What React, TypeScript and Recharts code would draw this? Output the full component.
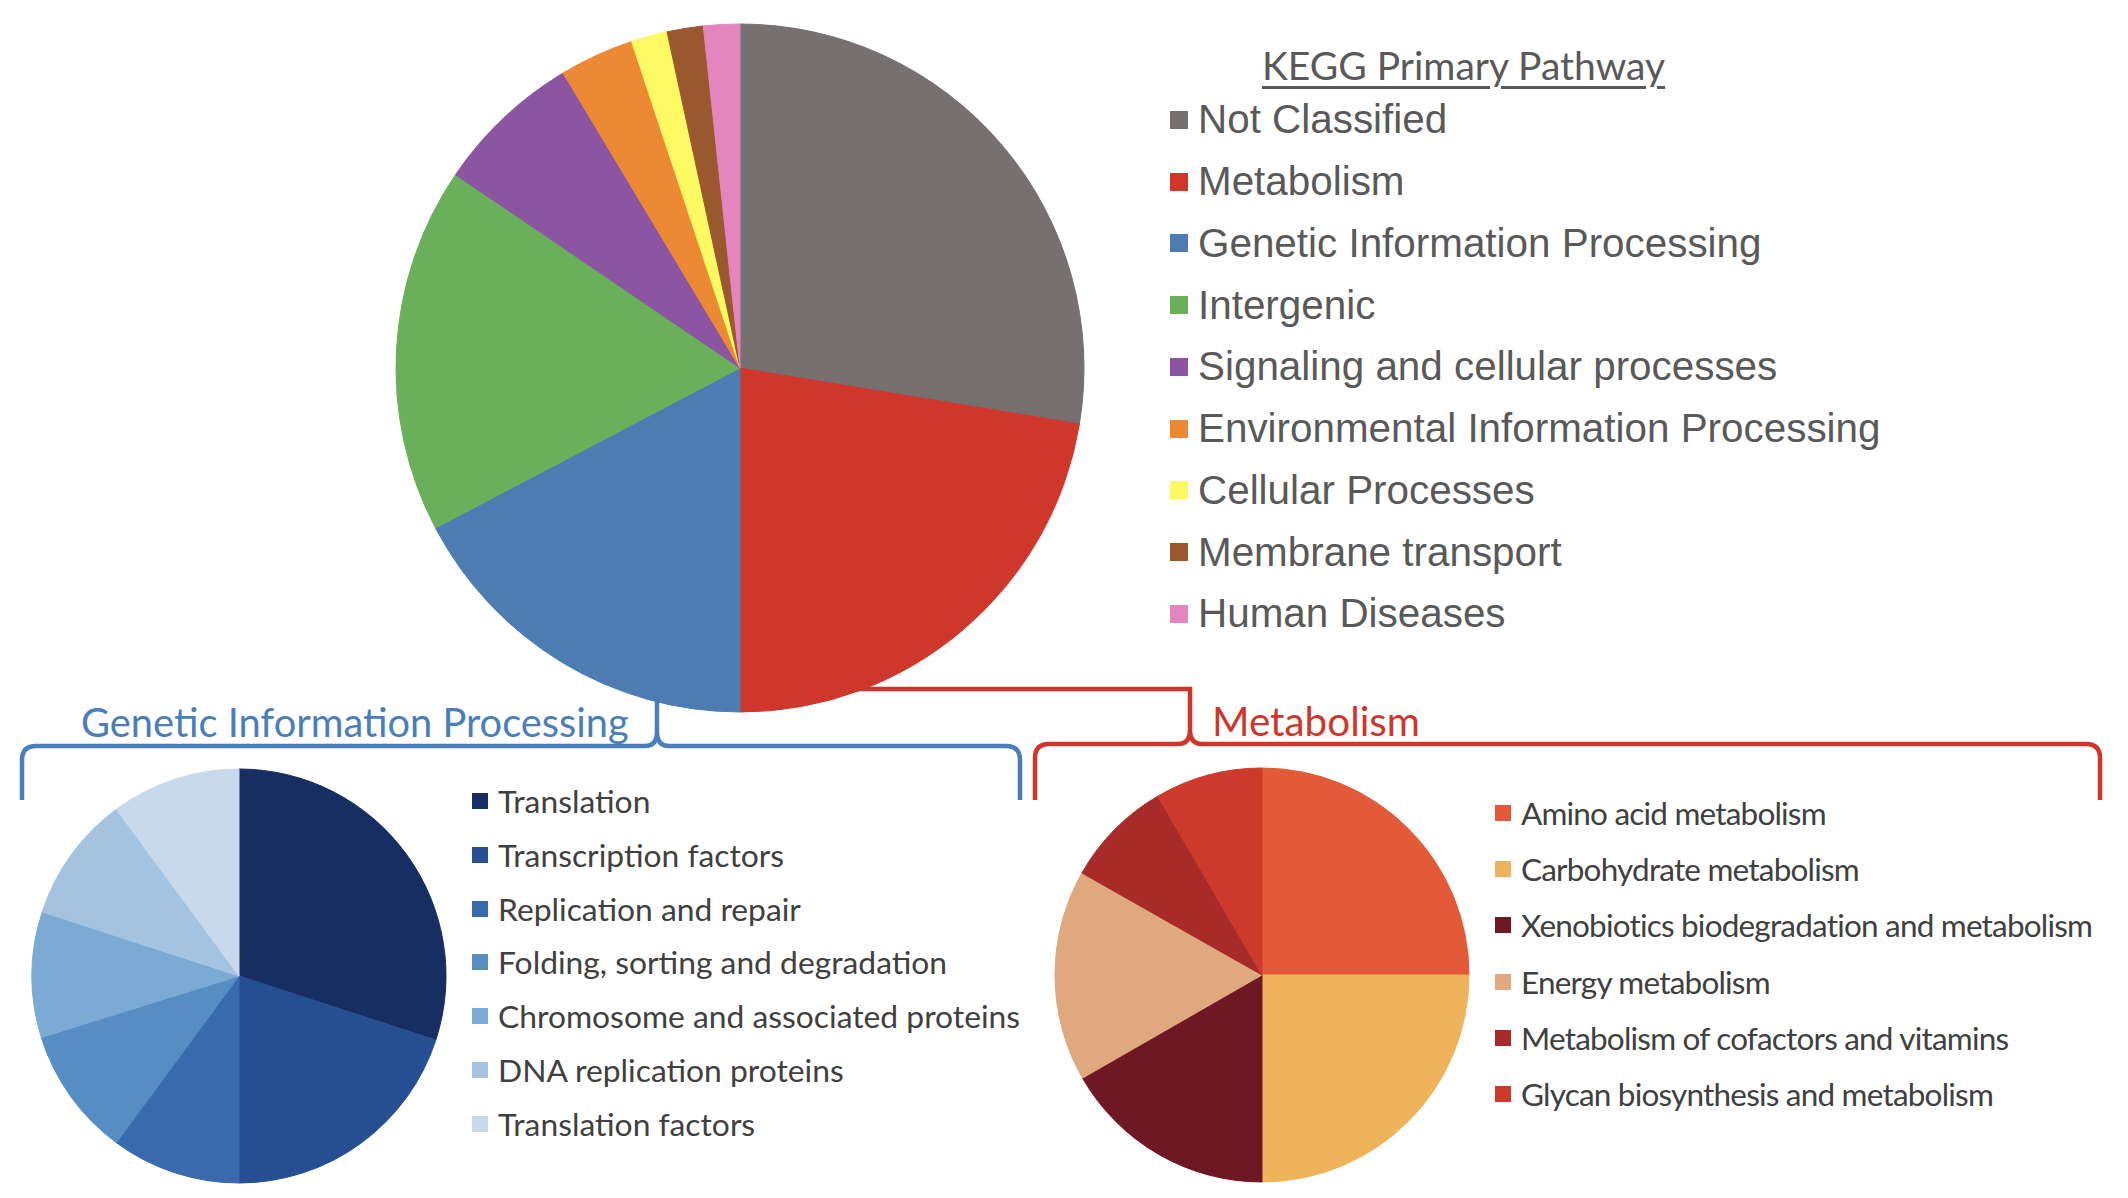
import React from "react";
import { PieChart, Pie, Cell } from "recharts";

// KEGG primary pathway shares (percent)
const mainNames = [
  "Not Classified",
  "Metabolism",
  "Genetic Information Processing",
  "Intergenic",
  "Signaling and cellular processes",
  "Environmental Information Processing",
  "Cellular Processes",
  "Membrane transport",
  "Human Diseases",
];
const mainValues = [27.6, 22.4, 17.3, 17.2, 6.9, 3.5, 1.7, 1.7, 1.7];
const mainColors = [
  "#767170",
  "#CF372C",
  "#4C7CB2",
  "#6AAF5A",
  "#8C55A2",
  "#EC8935",
  "#FDF962",
  "#9A582F",
  "#E386C0",
];

// Genetic Information Processing breakdown
const gipNames = [
  "Translation",
  "Transcription factors",
  "Replication and repair",
  "Folding, sorting and degradation",
  "Chromosome and associated proteins",
  "DNA replication proteins",
  "Translation factors",
];
const gipValues = [30, 20, 10.1, 10.1, 9.8, 9.9, 10.1];
const gipColors = [
  "#172E62",
  "#264F93",
  "#3A6AAE",
  "#568DC3",
  "#7BAAD5",
  "#A4C3E0",
  "#C9D9EC",
];

// Metabolism breakdown
const metNames = [
  "Amino acid metabolism",
  "Carbohydrate metabolism",
  "Xenobiotics biodegradation and metabolism",
  "Energy metabolism",
  "Metabolism of cofactors and vitamins",
  "Glycan biosynthesis and metabolism",
];
const metValues = [25, 25, 16.7, 16.5, 8.4, 8.4];
const metColors = [
  "#E35A38",
  "#EFB35C",
  "#6E1825",
  "#DFA87E",
  "#A82B2A",
  "#CC3A2B",
];

const toData = (names: string[], values: number[]) =>
  names.map((name, i) => ({ name, value: values[i] }));

const mainData = toData(mainNames, mainValues);
const gipData = toData(gipNames, gipValues);
const metData = toData(metNames, metValues);

const BLUE = "#4A7EBB";
const RED = "#D0352B";
const SUBFONT = "Lato, 'Open Sans', sans-serif";

interface LegendListProps {
  names: string[];
  colors: string[];
  x: number;
  y0: number;
  step: number;
  fontSize: number;
  font: string;
  textColor: string;
  box: number;
  gap: number;
  letterSpacing?: number;
}

const LegendList: React.FC<LegendListProps> = ({
  names,
  colors,
  x,
  y0,
  step,
  fontSize,
  font,
  textColor,
  box,
  gap,
  letterSpacing = 0,
}) => (
  <>
    {names.map((n, i) => {
      const cy = y0 + i * step;
      return (
        <div
          key={n}
          style={{
            position: "absolute",
            left: x,
            top: cy - fontSize * 0.6,
            height: fontSize * 1.2,
            display: "flex",
            alignItems: "center",
            whiteSpace: "nowrap",
            fontFamily: font,
            fontSize,
            color: textColor,
            letterSpacing,
          }}
        >
          <span
            style={{
              display: "inline-block",
              width: box,
              height: box,
              background: colors[i],
              marginRight: gap,
            }}
          />
          {n}
        </div>
      );
    })}
  </>
);

const App: React.FC = () => {
  return (
    <div
      style={{
        position: "relative",
        width: 2112,
        height: 1182,
        background: "#fff",
        overflow: "hidden",
      }}
    >
      {/* brackets linking the big pie to the two breakdowns */}
      <svg
        width={2112}
        height={1182}
        style={{ position: "absolute", left: 0, top: 0 }}
      >
        <path
          d="M 14 792 L 14 752 Q 14 738 28 738 L 637 738 Q 649 738 649 724 L 649 690 M 649 724 Q 649 738 661 738 L 998 738 Q 1012 738 1012 752 L 1012 792"
          fill="none"
          stroke={BLUE}
          strokeWidth={4.5}
        />
        <path
          d="M 732 681 L 1182 681 L 1182 722 Q 1182 736 1170 736 L 1041 736 Q 1027 736 1027 750 L 1027 792 M 1182 722 Q 1182 736 1194 736 L 2078 736 Q 2092 736 2092 750 L 2092 792"
          fill="none"
          stroke={RED}
          strokeWidth={4.5}
        />
      </svg>

      <div style={{ position: "absolute", left: 0, top: 0 }}>
        <PieChart
          width={2112}
          height={1182}
          margin={{ top: 0, right: 0, bottom: 0, left: 0 }}
        >
          <Pie
            data={mainData}
            dataKey="value"
            nameKey="name"
            cx={732}
            cy={360}
            outerRadius={344}
            startAngle={90}
            endAngle={-270}
            isAnimationActive={false}
          >
            {mainData.map((d, i) => (
              <Cell key={d.name} fill={mainColors[i]} stroke={mainColors[i]} />
            ))}
          </Pie>
          <Pie
            data={gipData}
            dataKey="value"
            nameKey="name"
            cx={231}
            cy={968}
            outerRadius={207}
            startAngle={90}
            endAngle={-270}
            isAnimationActive={false}
          >
            {gipData.map((d, i) => (
              <Cell key={d.name} fill={gipColors[i]} stroke={gipColors[i]} />
            ))}
          </Pie>
          <Pie
            data={metData}
            dataKey="value"
            nameKey="name"
            cx={1254}
            cy={967}
            outerRadius={207}
            startAngle={90}
            endAngle={-270}
            isAnimationActive={false}
          >
            {metData.map((d, i) => (
              <Cell key={d.name} fill={metColors[i]} stroke={metColors[i]} />
            ))}
          </Pie>
        </PieChart>
      </div>

      {/* main legend */}
      <div
        style={{
          position: "absolute",
          left: 1254,
          top: 34,
          fontFamily: SUBFONT,
          fontSize: 39,
          color: "#595959",
          textDecoration: "underline",
          textUnderlineOffset: 6,
          whiteSpace: "nowrap",
        }}
      >
        KEGG Primary Pathway
      </div>
      <LegendList
        names={mainNames}
        colors={mainColors}
        x={1162}
        y0={112}
        step={61.75}
        fontSize={40.4}
        font="'Liberation Sans', Arial, sans-serif"
        textColor="#595959"
        box={18}
        gap={10}
      />

      {/* sub-chart titles */}
      <div
        style={{
          position: "absolute",
          left: 73,
          top: 690,
          fontFamily: SUBFONT,
          fontSize: 39.8,
          color: BLUE,
          whiteSpace: "nowrap",
        }}
      >
        Genetic Information Processing
      </div>
      <div
        style={{
          position: "absolute",
          left: 1204,
          top: 688,
          fontFamily: SUBFONT,
          fontSize: 40.4,
          color: RED,
          whiteSpace: "nowrap",
        }}
      >
        Metabolism
      </div>

      <LegendList
        names={gipNames}
        colors={gipColors}
        x={464}
        y0={793}
        step={53.8}
        fontSize={31.8}
        font={SUBFONT}
        textColor="#404040"
        box={16}
        gap={10}
      />
      <LegendList
        names={metNames}
        colors={metColors}
        x={1487}
        y0={805}
        step={56.2}
        fontSize={31.5}
        font={SUBFONT}
        textColor="#404040"
        box={16}
        gap={10}
        letterSpacing={-0.8}
      />
    </div>
  );
};

export default App;
